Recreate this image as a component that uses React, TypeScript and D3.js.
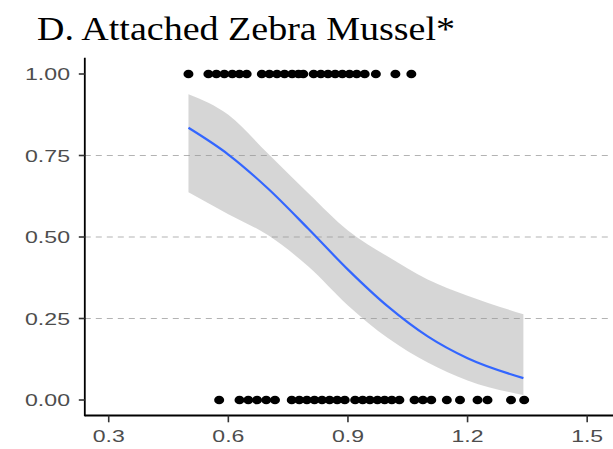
import React from 'react';
import * as d3 from 'd3';

// observations: attached (1) and not attached (0)
const presentX = [0.50, 0.550, 0.570, 0.590, 0.610, 0.628, 0.646, 0.684, 0.703, 0.722, 0.741, 0.760, 0.776, 0.788,
  0.814, 0.832, 0.850, 0.868, 0.886, 0.904, 0.922, 0.942, 0.970, 1.019, 1.059];
const absentX = [0.577, 0.628, 0.650, 0.672, 0.695, 0.717, 0.759, 0.778, 0.797, 0.816, 0.835, 0.854,
  0.873, 0.892, 0.918, 0.937, 0.955, 0.974, 0.992, 1.010, 1.029, 1.067, 1.088, 1.109, 1.148, 1.181,
  1.225, 1.250, 1.309, 1.342];

// fitted logistic curve + confidence band
const fitX = [0.50, 0.60, 0.70, 0.80, 0.90, 1.00, 1.10, 1.20, 1.34];
const fitY = [0.835, 0.753, 0.648, 0.526, 0.400, 0.287, 0.195, 0.128, 0.067];
const fitUpper = [0.938, 0.875, 0.755, 0.635, 0.520, 0.440, 0.370, 0.320, 0.263];
const fitLower = [0.637, 0.570, 0.505, 0.410, 0.290, 0.190, 0.115, 0.060, 0.015];

const xTicks = [0.3, 0.6, 0.9, 1.2, 1.5];
const yTicks = [0, 0.25, 0.5, 0.75, 1];
const gridTicks = [0.25, 0.5, 0.75];

const W = 613;
const H = 449;

const App = () => {
  const x = d3.scaleLinear().domain([0.24, 1.56]).range([84.8, 611.1]);
  const y = d3.scaleLinear().domain([-0.05, 1.05]).range([416.3, 57.7]);

  const band = fitX.map((v, i) => ({ x: v, y: fitY[i], lo: fitLower[i], hi: fitUpper[i] }));
  const area = d3.area<any>()
    .x(d => x(d.x)).y0(d => y(d.lo)).y1(d => y(d.hi))
    .curve(d3.curveMonotoneX);
  const line = d3.line<any>()
    .x(d => x(d.x)).y(d => y(d.y))
    .curve(d3.curveMonotoneX);

  const [x0, x1] = x.range();
  const [yBot, yTop] = y.range();
  const pts = [
    ...presentX.map(v => ({ x: v, y: 1 })),
    ...absentX.map(v => ({ x: v, y: 0 })),
  ];

  return (
    <svg width={W} height={H} style={{ position: 'absolute', left: 0, top: 0, background: '#fff' }}>
      <text x={37} y={40} fontFamily="'Liberation Serif', 'Times New Roman', serif" fontSize={33}
        textLength={418} lengthAdjust="spacingAndGlyphs" fill="#000">
        D. Attached Zebra Mussel*
      </text>

      {gridTicks.map(t => (
        <line key={t} x1={x0} x2={x1} y1={y(t)} y2={y(t)}
          stroke="#b3b3b3" strokeWidth={1} strokeDasharray="6,5" />
      ))}

      {pts.map((d, i) => (
        <ellipse key={i} cx={x(d.x)} cy={y(d.y)} rx={5} ry={4.3} fill="#000" />
      ))}

      <path d={area(band) || ''} fill="#999999" fillOpacity={0.4} />
      <path d={line(band) || ''} fill="none" stroke="#3366FF" strokeWidth={2.2} />

      <line x1={x0} x2={x0} y1={yTop} y2={yBot} stroke="#000" strokeWidth={1.8} />
      <line x1={x0} x2={x1 + 2} y1={yBot - 0.8} y2={yBot - 0.8} stroke="#000" strokeWidth={1.8} />

      {yTicks.map(t => (
        <g key={t}>
          <line x1={x0 - 6} x2={x0} y1={y(t)} y2={y(t)} stroke="#333" strokeWidth={1.6} />
          <text x={70} y={y(t) + 6} textAnchor="end" fontFamily="'Liberation Sans', Arial, sans-serif"
            fontSize={16.5} fill="#4d4d4d" textLength={45} lengthAdjust="spacingAndGlyphs">
            {t.toFixed(2)}
          </text>
        </g>
      ))}

      {xTicks.map(t => (
        <g key={t}>
          <line x1={x(t)} x2={x(t)} y1={yBot - 0.8} y2={yBot + 6} stroke="#333" strokeWidth={1.6} />
          <text x={x(t)} y={442} textAnchor="middle" fontFamily="'Liberation Sans', Arial, sans-serif"
            fontSize={16.5} fill="#4d4d4d" textLength={32} lengthAdjust="spacingAndGlyphs">
            {t.toFixed(1)}
          </text>
        </g>
      ))}
    </svg>
  );
};

export default App;
